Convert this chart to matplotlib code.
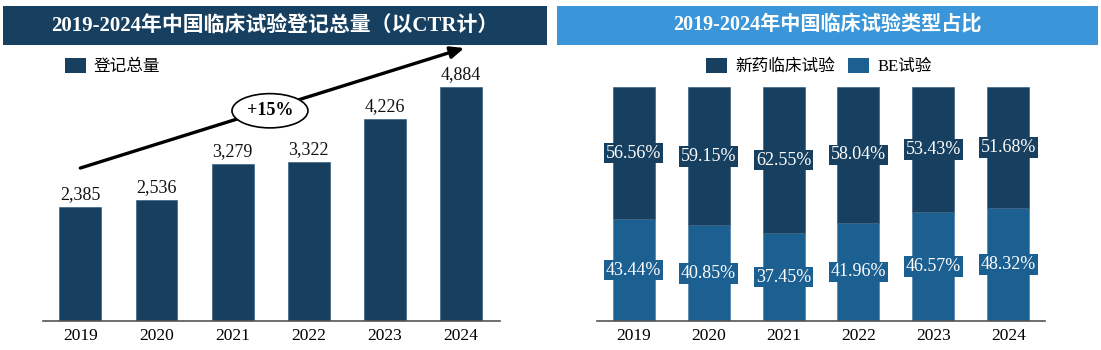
import matplotlib
matplotlib.use("Agg")
import matplotlib.pyplot as plt
from matplotlib.patches import Rectangle, Patch

plt.rcParams['font.family'] = ['Liberation Serif', 'Noto Sans CJK SC']

years = ['2019', '2020', '2021', '2022', '2023', '2024']
registrations = [2385, 2536, 3279, 3322, 4226, 4884]
new_drug_pct = [56.56, 59.15, 62.55, 58.04, 53.43, 51.68]
be_pct = [43.44, 40.85, 37.45, 41.96, 46.57, 48.32]

title_left = '2019-2024年中国临床试验登记总量（以CTR计）'
title_right = '2019-2024年中国临床试验类型占比'
legend_left = '登记总量'
legend_right = ['新药临床试验', 'BE试验']
growth_label = '+15%'

DARK = '#173f5f'
BE = '#1c5f91'
BANNER_L = '#173f5f'
BANNER_R = '#3a96d8'

W, H = 1101, 350
fig = plt.figure(figsize=(W / 100, H / 100), dpi=100)

def fx(px):
    return px / W

def fy(py):
    return 1 - py / H

# Banners
fig.patches.append(Rectangle((fx(3), fy(45)), fx(544), 39 / H, transform=fig.transFigure,
                             facecolor=BANNER_L, edgecolor='none'))
fig.patches.append(Rectangle((fx(557), fy(45)), fx(541), 39 / H, transform=fig.transFigure,
                             facecolor=BANNER_R, edgecolor='none'))
fig.text(fx(275), fy(25.5), title_left, color='white', fontsize=15, fontweight='bold',
         ha='center', va='center')
fig.text(fx(827), fy(25.5), title_right, color='white', fontsize=14.5, fontweight='bold',
         ha='center', va='center')

x = list(range(len(years)))

# Left chart
axL = fig.add_axes([fx(43), fy(321), fx(457), (321 - 60) / H])
axL.bar(x, registrations, width=0.55, color=DARK, edgecolor='#3d6482', linewidth=0.5)
for xi, v in zip(x, registrations):
    axL.text(xi, v + 80, f'{v:,}', ha='center', va='bottom', fontsize=13, color='#111111')
axL.set_xlim(-0.49, 5.51)
axL.set_ylim(0, 5450)
axL.set_xticks(x)
axL.set_xticklabels(years, fontsize=12.5)
axL.tick_params(axis='x', length=0, pad=5)
axL.set_yticks([])
for s in ['top', 'right', 'left']:
    axL.spines[s].set_visible(False)
axL.spines['bottom'].set_color('#555555')
axL.spines['bottom'].set_linewidth(1.2)

axL.annotate('', xy=(5.04, 5700), xytext=(0, 3194),
             arrowprops=dict(arrowstyle='-|>,head_length=0.8,head_width=0.35', color='black',
                             lw=2.4, shrinkA=0, shrinkB=0),
             annotation_clip=False)
axL.text(2.49, 4390, growth_label, ha='center', va='center', fontsize=13, fontweight='bold',
         bbox=dict(boxstyle='ellipse,pad=0.2', fc='white', ec='black', lw=1.2), zorder=5)

axL.legend(handles=[Patch(facecolor=DARK, label=legend_left)], loc='upper left',
           bbox_to_anchor=(fx(58), fy(51)), bbox_transform=fig.transFigure,
           frameon=False, fontsize=12, handlelength=1.25, handleheight=1.0,
           handletextpad=0.5, borderaxespad=0)

# Right chart
axR = fig.add_axes([fx(597), fy(321), fx(448), (321 - 60) / H])
axR.bar(x, be_pct, width=0.56, color=BE, edgecolor='#4f7fa6', linewidth=0.5)
axR.bar(x, new_drug_pct, bottom=be_pct, width=0.56, color=DARK, edgecolor='#3d6482', linewidth=0.5)
for xi, b, n in zip(x, be_pct, new_drug_pct):
    axR.text(xi, b / 2, f'{b:.2f}%', ha='center', va='center', fontsize=13, color='white',
             bbox=dict(boxstyle='square,pad=0.1', fc=BE, ec='none'))
    axR.text(xi, b + n / 2, f'{n:.2f}%', ha='center', va='center', fontsize=13, color='white',
             bbox=dict(boxstyle='square,pad=0.1', fc=DARK, ec='none'))
axR.set_xlim(-0.49, 5.49)
axR.set_ylim(0, 100 * 261 / 234)
axR.set_xticks(x)
axR.set_xticklabels(years, fontsize=12.5)
axR.tick_params(axis='x', length=0, pad=5)
axR.set_yticks([])
for s in ['top', 'right', 'left']:
    axR.spines[s].set_visible(False)
axR.spines['bottom'].set_color('#555555')
axR.spines['bottom'].set_linewidth(1.2)

axR.legend(handles=[Patch(facecolor=DARK, label=legend_right[0]),
                    Patch(facecolor=BE, label=legend_right[1])],
           loc='upper center', ncol=2,
           bbox_to_anchor=(fx(819), fy(51)), bbox_transform=fig.transFigure,
           frameon=False, fontsize=12, handlelength=1.25, handleheight=1.0,
           handletextpad=0.5, columnspacing=0.8, borderaxespad=0)

fig.savefig('out.png', dpi=100)
